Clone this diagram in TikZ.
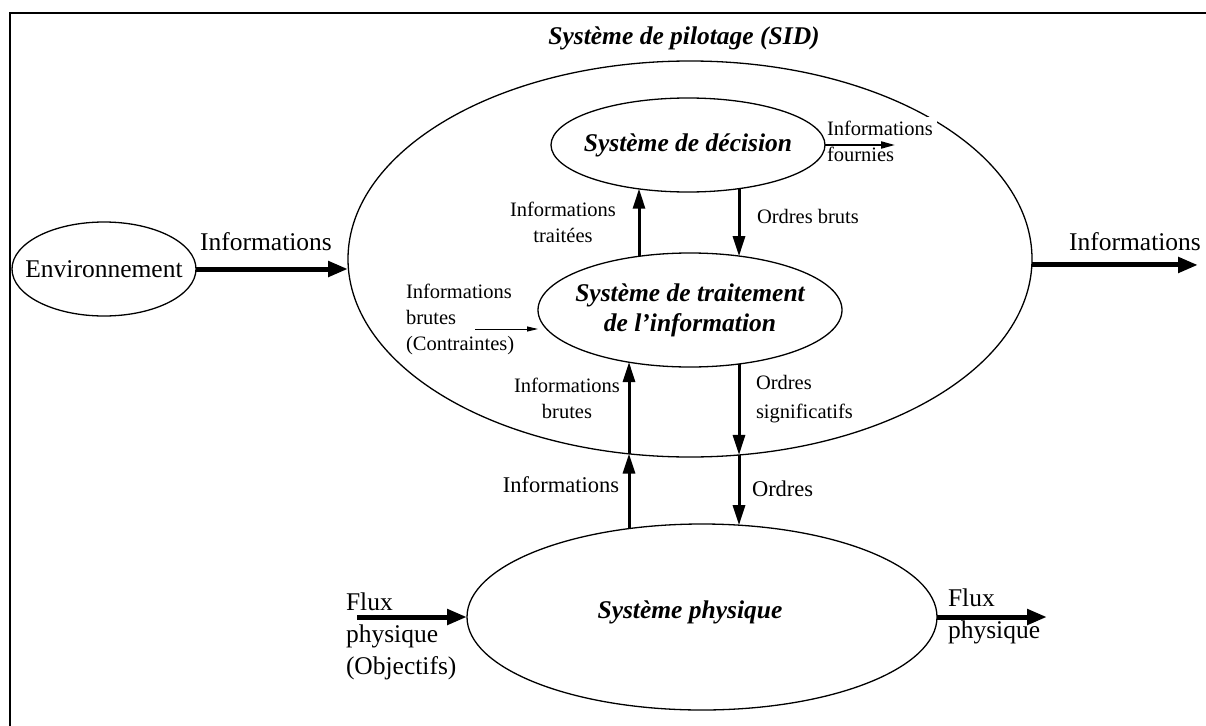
\documentclass[tikz,border=0pt]{standalone}
\usepackage{fontspec}
\setmainfont{Liberation Serif}
\usetikzlibrary{shapes.geometric,arrows.meta}
% text of zero width, so that an ellipse keeps the size it is given
\newcommand\zerowd[1]{\makebox[0pt][c]{#1}}
\begin{document}
\begin{tikzpicture}[x=1pt,y=-1pt,
  every node/.style={inner sep=0pt, outer sep=0pt},
  bubble/.style={draw, ellipse, line width=1.3pt, inner sep=0pt, outer sep=0pt},
  txtbig/.style={font=\fontsize{25.5}{30}\selectfont},
  txtmid/.style={font=\fontsize{22.5}{27}\selectfont},
  txtsmall/.style={font=\fontsize{20.5}{26}\selectfont},
  txthead/.style={font=\fontsize{25.5}{30}\selectfont\bfseries\itshape},
  arrflow/.style={line width=5pt, -{Triangle[length=20pt,width=15pt]}},
  arrlink/.style={line width=3pt, -{Triangle[length=20pt,width=12pt]}},
  arrthin/.style={line width=2pt, -{Triangle[length=14pt,width=7pt]}},
  arrhair/.style={line width=1pt, -{Triangle[length=11pt,width=5pt]}},
]
\useasboundingbox (0,0) rectangle (1206,725);

% outer frame (top and left sides)
\draw[line width=2pt] (10,730) -- (10,13) -- (1210,13);

% title and the steering system
\node[txthead, anchor=base] (title) at (684,45) {Système de pilotage (SID)};
\node[bubble, minimum width=684pt, minimum height=396pt] (sid) at (690,259) {};

% label drawn over the outer ellipse
\node[txtsmall, align=left, anchor=west, fill=white, inner sep=4pt] (lblfourn) at (823,141.5) {Informations\\fournies};

% subsystems
\node[bubble, minimum width=274pt, minimum height=94pt, txthead] (dec) at (688,145) {\zerowd{Système de décision}};
\node[bubble, minimum width=304pt, minimum height=114pt, txthead] (trt) at (690,310)
  {\zerowd{\begin{tabular}{@{}c@{}}Système de traitement\\de l’information\end{tabular}}};
\node[bubble, minimum width=470pt, minimum height=186pt, txthead, text height=12pt, text depth=10pt] (phy) at (702,617)
  {\zerowd{\hspace*{-24pt}Système physique}};
\node[bubble, minimum width=184pt, minimum height=94pt, txtbig] (env) at (104,269) {\zerowd{Environnement}};

% labels
\node[txtbig, anchor=base] (lblenv) at (266,250) {Informations};
\node[txtbig, anchor=base] (lblout) at (1135,250) {Informations};
\node[txtsmall, align=center] (lbltrait) at (563,222) {Informations\\traitées};
\node[txtsmall, anchor=base west] (lblbruts) at (757,223) {Ordres bruts};
\node[txtsmall, align=left, anchor=west] (lblcontr) at (406,319) {Informations\\brutes\\(Contraintes)};
\node[txtsmall, align=center] (lblbrutes) at (567,398.5) {Informations\\brutes};
\node[font=\fontsize{20.5}{29}\selectfont, align=left, anchor=west] (lblsignif) at (756,399) {Ordres\\significatifs};
\node[txtmid, anchor=base] (lblinfo) at (561,492) {Informations};
\node[txtmid, anchor=base west] (lblordres) at (752,496) {Ordres};
\node[font=\fontsize{25.5}{32}\selectfont, align=left, anchor=west] (lblfluxin) at (346,636) {Flux\\physique\\(Objectifs)};
\node[font=\fontsize{25.5}{32}\selectfont, align=left, anchor=west] (lblfluxout) at (948,616) {Flux\\physique};

% columns of the vertical connectors
\coordinate (colA) at (639,0);
\coordinate (colB) at (739,0);
\coordinate (colC) at (629,0);

% free ends of connectors
\coordinate (outend) at (1198,268);
\coordinate (fluxinstart) at (357,617);
\coordinate (fluxoutend) at (1047,617);
\coordinate (fournend) at (895,143);
\coordinate (contrstart) at (475,329);

% flows
\draw[arrflow] (env.east) -- (env.east -| sid.west);
\draw[arrflow] (sid.-1.5) -- (sid.-1.5 -| outend);
\draw[arrlink] (trt.133.5 -| colA) -- (dec.221.9 -| colA);
\draw[arrlink] (dec.319.5 -| colB) -- (trt.47.8 -| colB);
\draw[arrlink] (phy.129.55 -| colC) -- (sid.252.6 -| colC);
\draw[arrlink] (sid.252.6 -| colC) -- (trt.220.55 -| colC);
\draw[arrlink] (trt.312.2 -| colB) -- (sid.284 -| colB);
\draw[arrlink] (sid.284 -| colB) -- (phy.68.05 -| colB);
\draw[arrflow] (fluxinstart) -- (phy.west);
\draw[arrflow] (phy.east) -- (fluxoutend);
\draw[arrthin] (dec.east) -- (dec.east -| fournend);
\draw[arrhair] (contrstart) -- (contrstart -| trt.west);
\end{tikzpicture}
\end{document}
